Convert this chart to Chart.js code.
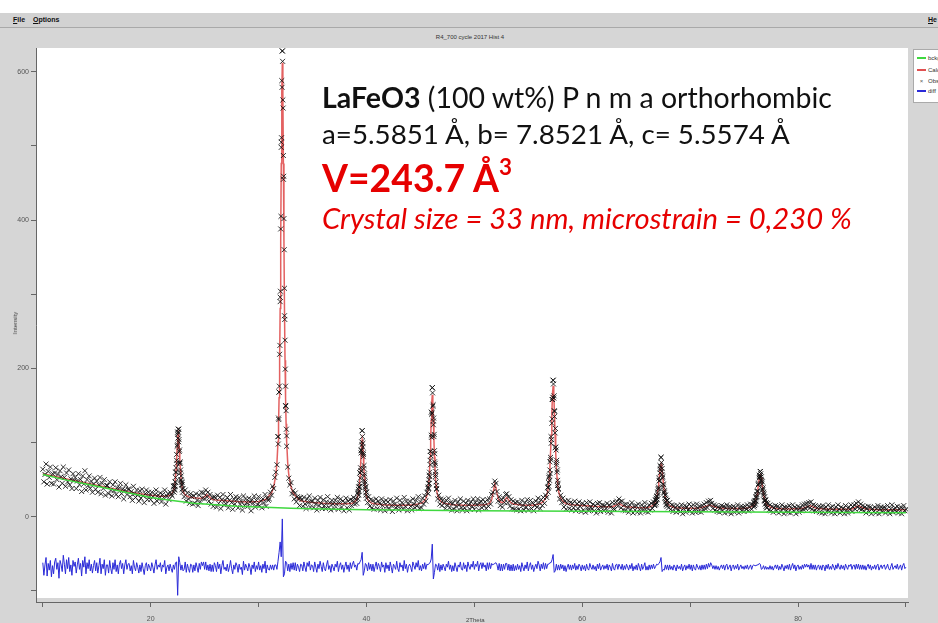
<!DOCTYPE html>
<html>
<head>
<meta charset="utf-8">
<title>LaFeO3 Rietveld fit</title>
<script src="https://cdn.jsdelivr.net/npm/chart.js@4.4.1/dist/chart.umd.min.js"></script>
<style>
html, body { margin: 0; padding: 0; }
body { width: 938px; height: 623px; position: relative; overflow: hidden; background: #d6d6d6; font-family: "Liberation Sans", Arial, sans-serif; }
#topStrip { position: absolute; left: 0; top: 0; width: 938px; height: 13px; background: #fff; }
#menu { position: absolute; left: 0; top: 13px; width: 938px; height: 14px; background: #d2d2d2; border-bottom: 1px solid #a9a9a9; font-size: 7px; font-weight: bold; color: #111; }
#menu span { position: absolute; top: 3px; }
#plotTitle { position: absolute; left: 470px; top: 34px; transform: translateX(-50%); font-size: 6px; color: #333; white-space: nowrap; }
#chart { position: absolute; left: 0; top: 0; }
.note { position: absolute; left: 322px; white-space: nowrap; font-family: Lato, "Open Sans", sans-serif; line-height: 1; }
#ylab { position: absolute; left: 15px; top: 323px; transform: translate(-50%, -50%) rotate(-90deg); font-size: 6px; color: #444; }
#xlab { position: absolute; left: 466px; top: 617px; font-size: 6px; color: #444; }
#legend { position: absolute; left: 913px; top: 49px; width: 30px; height: 52px; background: #fff; border: 1px solid #aaa; overflow: hidden; font-size: 6px; color: #333; }
#legend .row { position: absolute; left: 3px; height: 8px; line-height: 8px; white-space: nowrap; }
#legend .sw { display: inline-block; width: 9px; height: 2px; vertical-align: middle; margin-right: 2px; }
</style>
</head>
<body>
<div id="topStrip"></div>
<div id="menu"><span style="left:13px"><u>F</u>ile</span><span style="left:33px"><u>O</u>ptions</span><span style="left:928px"><u>H</u>e</span></div>
<div id="plotTitle">R4_700 cycle 2017 Hist 4</div>
<canvas id="chart" width="938" height="623"></canvas>
<div id="ylab">Intensity</div>
<div id="xlab">2Theta</div>
<div id="legend">
  <div class="row" style="top:4px"><span class="sw" style="background:#3fd83f"></span>bckgr</div>
  <div class="row" style="top:16px"><span class="sw" style="background:#e05050"></span>Calc</div>
  <div class="row" style="top:27px"><span style="display:inline-block;width:9px;margin-right:2px;text-align:center;color:#555">×</span>Obs</div>
  <div class="row" style="top:37px"><span class="sw" style="background:#2a2ad8"></span>diff</div>
</div>

<div class="note" data-width="510" data-base="108" style="font-size:28px;color:#111"><b>LaFeO3</b> (100 wt%) P n m a orthorhombic</div>
<div class="note" data-width="468" data-base="145" style="font-size:28px;color:#111">a=5.5851 Å, b= 7.8521 Å, c= 5.5574 Å</div>
<div class="note" data-width="190" data-base="192" style="font-size:38px;color:#e60000;font-weight:bold">V=243.7 Å<span style="font-size:0.6em;position:relative;top:-0.75em">3</span></div>
<div class="note" data-width="530" data-base="229" style="font-size:25px;color:#e60000;font-style:italic">Crystal size = 33 nm, microstrain = 0,230 %</div>

<script>
// ---- axis ticks ----
const xTickValues = [10, 20, 30, 40, 50, 60, 70, 80, 90];
const xTickLabels = [20, 40, 60, 80];
const yTickValues = [-100, 0, 100, 200, 300, 400, 500, 600];
const yTickLabels = [0, 200, 400, 600];

// ---- background (green) ----
const bgTheta = [10, 12, 14, 16, 18, 20, 22, 24, 26, 28, 30, 33, 36, 40, 45, 50, 55, 60, 70, 80, 90];
const bgCounts = [57, 50, 44, 38, 32, 26, 22, 18, 16, 14, 13, 11.5, 10.5, 9.5, 8.8, 8.2, 7.6, 7.2, 6.6, 6.0, 5.5];

// ---- calculated profile (red) ----
const calcTheta = [
  10, 11, 12, 13, 14, 15, 16, 17, 18, 19, 20, 21,
  21.55, 21.75, 21.95, 22.05, 22.15, 22.2, 22.25, 22.3, 22.35, 22.4, 22.45, 22.5, 22.55, 22.6, 22.65, 22.7, 22.75, 22.8, 22.85, 22.9, 22.95, 23.05, 23.15, 23.35, 23.55,
  24, 24.7, 25, 25.2, 25.4, 25.7, 26, 27, 28, 29, 30, 30.7,
  31.2, 31.4, 31.6, 31.7, 31.8, 31.85, 31.9, 31.95, 32, 32.05, 32.1, 32.15, 32.2, 32.25, 32.3, 32.35, 32.4, 32.45, 32.5, 32.55, 32.6, 32.7, 32.8, 33, 33.2, 33.7,
  34, 35, 36, 37, 38, 38.6, 38.8,
  39, 39.1, 39.2, 39.25, 39.3, 39.35, 39.4, 39.45, 39.5, 39.55, 39.6, 39.65, 39.7, 39.75, 39.8, 39.85, 39.9, 39.95, 40, 40.1, 40.2, 40.4, 40.6,
  41.5, 42.5, 43.5, 44.5,
  45.1, 45.3, 45.5, 45.6, 45.7, 45.75, 45.8, 45.85, 45.9, 45.95, 46, 46.05, 46.1, 46.15, 46.2, 46.25, 46.3, 46.35, 46.4, 46.45, 46.5, 46.6, 46.7, 46.9, 47.1,
  48, 49, 50, 51, 51.4, 51.6, 51.75, 51.85, 51.9, 52, 52.1, 52.25, 52.5, 52.7, 52.85, 53, 53.15, 53.3, 53.6, 54.5, 55.5,
  56.1, 56.34, 56.58, 56.7, 56.82, 56.88, 56.94, 57, 57.06, 57.12, 57.18, 57.24, 57.3, 57.36, 57.42, 57.48, 57.54, 57.6, 57.66, 57.72, 57.78, 57.9, 58.02, 58.26, 58.5,
  59, 60, 61, 62, 62.8, 63.2, 63.4, 63.6, 64, 65,
  65.9, 66.18, 66.46, 66.6, 66.74, 66.81, 66.88, 66.95, 67.02, 67.09, 67.16, 67.23, 67.3, 67.37, 67.44, 67.51, 67.58, 67.65, 67.72, 67.79, 67.86, 68, 68.14, 68.42, 68.7,
  69.5, 70.5, 71, 71.5, 71.8, 72.1, 72.6, 73.5, 74.5,
  75, 75.3, 75.6, 75.75, 75.9, 75.975, 76.05, 76.125, 76.2, 76.275, 76.35, 76.425, 76.5, 76.575, 76.65, 76.725, 76.8, 76.875, 76.95, 77.025, 77.1, 77.25, 77.4, 77.7, 78,
  79, 80.4, 80.8, 81.1, 81.4, 81.8, 83, 84, 85, 85.3, 85.6, 85.9, 86.3, 87.5, 88.5, 90
];
const calcCounts = [
  58, 55, 51.5, 48.5, 45.5, 42.5, 39.5, 36.5, 33.5, 31, 29, 27.5,
  27.8, 28.5, 30.8, 33.2, 37, 40.5, 45.7, 53.2, 63.5, 76.9, 92.4, 106.5, 112.5, 106.5, 92.4, 76.9, 63.5, 53.2, 45.7, 40.5, 37, 32.7, 30.3, 27.9, 26.7,
  25.5, 24.5, 27, 30, 27, 23.5, 22.5, 21.5, 20.5, 20, 20.5, 23.5,
  31.9, 40.2, 56.3, 72.3, 101.5, 125.3, 160.4, 211, 280.6, 371.6, 476.3, 571.5, 612, 571.5, 476.3, 371.6, 280.6, 211, 160.4, 125.3, 101.5, 72.3, 56.3, 40.2, 31.9, 23.5,
  21.3, 19, 18, 17.5, 17.5, 17.7, 18.9,
  21.3, 23.7, 28, 31.5, 36.7, 44.2, 54.5, 67.9, 83.4, 97.5, 103.5, 97.5, 83.4, 67.9, 54.5, 44.2, 36.7, 31.5, 28, 23.7, 21.3, 18.9, 17.7,
  16, 15.5, 15.5, 16,
  18.3, 20.4, 24.4, 28.5, 35.8, 41.8, 50.7, 63.4, 81, 103.9, 130.3, 154.3, 164.5, 154.3, 130.3, 103.9, 81, 63.4, 50.7, 41.8, 35.8, 28.5, 24.4, 20.4, 18.3,
  16, 15.5, 15.5, 16, 18, 23, 33, 41, 43, 39, 31, 23, 19, 20, 23, 26, 23, 20, 17, 15.5, 15.5,
  17.6, 19.9, 24.3, 28.7, 36.6, 43.2, 52.8, 66.6, 85.7, 110.6, 139.3, 165.4, 176.5, 165.4, 139.3, 110.6, 85.7, 66.6, 52.8, 43.2, 36.6, 28.7, 24.3, 19.9, 17.6,
  16, 15, 14, 13.5, 13.5, 16, 18, 16, 13.5, 12.5,
  12, 12.8, 14.5, 16.1, 19, 21.4, 25, 30.1, 37.1, 46.3, 56.8, 66.4, 70.5, 66.4, 56.8, 46.3, 37.1, 30.1, 25, 21.4, 19, 16.1, 14.5, 12.8, 12,
  11.5, 11.5, 12, 14, 16, 14, 12, 11, 11,
  11.2, 11.8, 13, 14.3, 16.5, 18.4, 21.1, 25, 30.4, 37.4, 45.5, 52.9, 56, 52.9, 45.5, 37.4, 30.4, 25, 21.1, 18.4, 16.5, 14.3, 13, 11.8, 11.2,
  10.5, 11, 13, 15, 13, 11, 10, 10, 10.5, 12.5, 15, 12.5, 10.5, 9.5, 9.5, 9.5
];

// ---- observed counts, 2theta 10.0 .. 90.0 every 0.1 deg ----
const obsStart = 10, obsStep = 0.1;
const obsCounts = [
  64, 47, 57, 71, 44, 61, 53, 67, 45, 58,
  44, 59, 66, 50, 57, 40, 62, 54, 45, 67,
  53, 41, 59, 47, 63, 43, 51, 38, 58, 49,
  53, 38, 48, 58, 43, 50, 34, 55, 44, 62,
  36, 50, 42, 55, 38, 48, 33, 44, 52, 37,
  48, 33, 43, 53, 31, 45, 38, 50, 29, 42,
  42, 31, 47, 36, 28, 43, 35, 47, 30, 39,
  27, 39, 45, 31, 37, 24, 36, 43, 30, 37,
  37, 27, 34, 22, 41, 31, 26, 36, 29, 21,
  35, 25, 37, 28, 19, 31, 36, 23, 33, 28,
  23, 33, 27, 18, 30, 36, 21, 29, 25, 32,
  20, 30, 26, 36, 17, 28, 31, 23, 33, 30,
  28, 41, 37, 60, 84, 114, 118, 72, 49, 46,
  38, 27, 36, 21, 32, 24, 18, 31, 27, 17,
  28, 18, 31, 22, 15, 29, 20, 33, 25, 32,
  24, 36, 27, 33, 21, 30, 17, 26, 14, 27,
  25, 13, 29, 18, 26, 11, 23, 30, 16, 22,
  17, 26, 12, 22, 30, 19, 10, 24, 17, 27,
  23, 12, 26, 17, 21, 9, 28, 15, 24, 19,
  14, 25, 20, 8, 23, 18, 28, 13, 22, 16,
  27, 15, 21, 12, 24, 19, 30, 14, 25, 22,
  24, 33, 29, 41, 38, 53, 60, 70, 108, 168,
  296, 505, 628, 455, 271, 150, 109, 67, 52, 43,
  46, 31, 35, 24, 32, 20, 27, 25, 15, 26,
  23, 14, 26, 17, 11, 24, 19, 28, 13, 21,
  21, 12, 25, 17, 9, 22, 15, 26, 18, 11,
  23, 15, 11, 20, 27, 13, 19, 9, 22, 17,
  11, 22, 17, 26, 10, 19, 24, 13, 21, 8,
  19, 25, 12, 21, 9, 23, 15, 22, 26, 17,
  24, 18, 31, 40, 59, 90, 116, 86, 49, 40,
  33, 19, 27, 14, 23, 12, 22, 10, 18, 24,
  11, 21, 18, 9, 24, 15, 20, 8, 22, 14,
  20, 10, 23, 15, 7, 21, 17, 12, 25, 14,
  9, 22, 15, 19, 10, 26, 14, 21, 8, 17,
  21, 14, 9, 24, 17, 12, 22, 15, 27, 11,
  20, 12, 25, 17, 28, 21, 33, 38, 56, 88,
  141, 174, 124, 74, 54, 38, 24, 29, 17, 24,
  15, 23, 18, 11, 22, 16, 25, 12, 19, 9,
  18, 10, 22, 14, 8, 20, 16, 24, 12, 9,
  21, 12, 18, 8, 22, 16, 10, 20, 14, 24,
  10, 19, 16, 24, 9, 18, 21, 12, 23, 15,
  20, 11, 23, 14, 24, 17, 30, 33, 42, 48,
  45, 34, 21, 27, 15, 23, 13, 25, 19, 30,
  31, 19, 27, 14, 23, 11, 21, 10, 19, 9,
  20, 10, 17, 8, 22, 15, 9, 19, 13, 23,
  9, 17, 22, 11, 19, 8, 15, 21, 13, 25,
  19, 11, 23, 15, 26, 18, 29, 26, 39, 53,
  74, 108, 158, 184, 143, 93, 70, 42, 37, 24,
  29, 19, 25, 13, 21, 10, 18, 22, 11, 19,
  9, 18, 12, 21, 8, 17, 11, 20, 14, 7,
  18, 9, 16, 6, 19, 12, 8, 20, 13, 10,
  17, 8, 15, 5, 18, 11, 19, 7, 13, 16,
  8, 15, 11, 18, 6, 16, 13, 5, 19, 11,
  10, 19, 21, 14, 24, 20, 12, 21, 9, 16,
  8, 17, 12, 6, 16, 10, 19, 5, 14, 9,
  15, 6, 17, 10, 5, 16, 9, 13, 19, 7,
  12, 6, 16, 9, 18, 11, 20, 15, 22, 27,
  37, 52, 69, 80, 57, 44, 32, 29, 17, 22,
  12, 19, 10, 16, 7, 15, 12, 6, 15, 9,
  13, 7, 16, 4, 11, 15, 6, 13, 9, 17,
  8, 14, 5, 16, 10, 6, 17, 12, 7, 14,
  6, 15, 10, 17, 11, 19, 12, 21, 17, 22,
  18, 11, 16, 9, 15, 7, 13, 6, 12, 15,
  8, 14, 5, 12, 16, 6, 11, 14, 4, 12,
  14, 6, 12, 8, 16, 5, 11, 14, 8, 13,
  7, 14, 10, 16, 8, 13, 17, 10, 16, 19,
  21, 27, 34, 43, 56, 61, 48, 37, 33, 21,
  23, 12, 18, 9, 16, 8, 14, 6, 12, 15,
  8, 14, 5, 12, 7, 16, 11, 4, 13, 8,
  13, 6, 15, 5, 11, 16, 8, 13, 4, 11,
  14, 6, 12, 8, 16, 10, 17, 11, 18, 13,
  19, 12, 20, 10, 16, 8, 15, 7, 12, 14,
  6, 13, 5, 15, 11, 4, 13, 8, 16, 7,
  12, 5, 14, 9, 4, 13, 7, 16, 10, 5,
  13, 7, 11, 4, 15, 9, 5, 13, 10, 16,
  7, 13, 16, 10, 18, 13, 20, 11, 17, 10,
  15, 8, 13, 5, 11, 14, 7, 13, 4, 11,
  7, 13, 5, 11, 15, 4, 10, 13, 7, 12,
  13, 5, 10, 15, 7, 4, 11, 16, 6, 10,
  12, 7, 14, 5, 10, 13, 4, 11, 15, 8,
  10
];

// extra observed points through the main reflections (finer step)
const peakStarts = [22.15, 31.8, 39.2, 45.7, 56.82, 66.74, 75.9];
const peakSteps = [0.025, 0.025, 0.025, 0.025, 0.03, 0.035, 0.0375];
const obsPeak22 = [41, 33, 42, 36, 47, 41, 53, 46, 66, 60, 76, 72, 95, 97, 111, 106, 118, 114, 101, 104, 88, 90, 72, 74, 59, 63, 50, 55, 43, 47, 37, 43, 33];
const obsPeak32 = [108, 98, 133, 131, 168, 176, 219, 231, 290, 304, 388, 405, 498, 511, 588, 579, 628, 614, 562, 551, 487, 459, 402, 360, 308, 266, 238, 199, 176, 149, 143, 118, 95];
const obsPeak39 = [33, 24, 37, 29, 40, 34, 45, 41, 59, 52, 66, 62, 86, 89, 101, 97, 116, 108, 94, 99, 81, 84, 65, 69, 55, 58, 44, 47, 37, 40, 29, 33, 25];
const obsPeak46 = [40, 31, 45, 38, 50, 45, 60, 54, 76, 70, 88, 82, 110, 107, 138, 140, 174, 167, 149, 151, 129, 133, 108, 111, 89, 85, 69, 72, 57, 61, 47, 42, 37];
const obsPeak57 = [40, 33, 46, 41, 55, 49, 63, 58, 80, 77, 99, 104, 126, 132, 158, 161, 184, 179, 160, 163, 135, 142, 113, 119, 94, 90, 73, 76, 60, 63, 49, 45, 38];
const obsPeak67 = [16, 23, 17, 25, 19, 28, 23, 33, 30, 40, 38, 48, 49, 59, 64, 67, 80, 73, 61, 65, 52, 54, 40, 43, 33, 35, 25, 29, 20, 24, 16, 22, 14];
const obsPeak76 = [13, 20, 15, 22, 17, 26, 21, 30, 27, 35, 34, 43, 45, 52, 54, 53, 61, 58, 50, 54, 44, 47, 36, 39, 29, 31, 22, 27, 17, 22, 14, 19, 12];
const obsPeaks = [obsPeak22, obsPeak32, obsPeak39, obsPeak46, obsPeak57, obsPeak67, obsPeak76];

// ---- difference obs - calc, same 0.1 deg grid, drawn shifted down ----
const diffOffset = -68;
const diffCounts = [
  6, -11, 3, 13, -12, 5, -4, 9, -13, 2,
  -9, 7, 12, -3, 6, -15, 9, 3, -6, 16,
  4, -9, 10, -2, 13, -6, 3, -11, 9, 1,
  7, -8, 3, 12, -3, 5, -12, 9, 0, 14,
  -9, 6, -2, 10, -5, 4, -8, 2, 9, -5,
  6, -8, 2, 12, -9, 4, -2, 10, -11, 3,
  3, -8, 9, -2, -9, 6, -3, 10, -6, 3,
  -9, 4, 9, -2, 5, -9, 3, 10, -3, 4,
  5, -5, 2, -9, 9, 0, -5, 6, 0, -8,
  3, -6, 6, -2, -10, 2, 6, -5, 4, 0,
  -5, 6, 0, -8, 3, 10, -3, 3, 0, 6,
  -6, 3, 0, 9, -9, 0, 3, -5, 4, -2,
  -7, 3, -3, 6, 7, -38, 14, 6, -4, 3,
  -5, -3, 7, -7, 4, -2, -7, 4, 3, -7,
  3, -5, 6, 0, -7, 5, -3, 7, 2, 7,
  -3, 7, -4, 3, -5, 4, -6, 3, -6, 6,
  2, -6, 7, -2, 4, -9, 2, 9, -3, 0,
  -5, 4, -6, 0, 9, -2, -9, 3, -3, 6,
  2, -7, 4, -3, 0, -10, 8, -4, 4, 0,
  -5, 5, 0, -10, 3, -2, 7, -6, 2, -3,
  7, -4, 2, -7, 4, -2, 8, -8, 3, -3,
  -4, 3, -3, 3, -4, 3, 3, -3, 8, 20,
  34, 14, 65, -13, -9, 8, 6, -5, 4, -6,
  5, -3, 6, -4, 6, -5, 4, 0, -6, 4,
  3, -5, 7, 0, -6, 6, 1, 8, -4, 3,
  2, -6, 7, 0, -7, 4, -2, 8, 1, -6,
  6, -2, -5, 3, 9, -3, 2, -7, 4, 0,
  -5, 4, 0, 8, -6, 2, 6, -3, 3, -7,
  1, 7, -3, 3, -6, 6, -2, 4, 8, 0,
  3, -4, 5, 4, 7, 10, 20, -11, -5, 5,
  3, -5, 6, -3, 4, -5, 4, -6, 1, 7,
  -3, 5, 1, -6, 7, 0, 3, -7, 6, -2,
  3, -5, 7, 0, -8, 4, 1, -3, 8, -2,
  -6, 6, 0, 3, -5, 9, -2, 4, -7, 1,
  4, 0, -6, 7, 2, -3, 6, 0, 9, -4,
  2, -5, 4, -2, 6, -3, 4, 3, 5, 6,
  11, 31, -16, -7, 4, 3, -4, 5, -6, 3,
  -4, 4, 0, -5, 4, 0, 8, -3, 3, -6,
  2, -5, 6, 0, -6, 3, 0, 7, -3, -4,
  6, -2, 3, -6, 7, 1, -3, 4, 0, 8,
  -3, 4, 1, 8, -5, 3, 6, -2, 6, 0,
  3, -5, 6, -3, 6, -2, 5, 3, 4, 5,
  6, 3, -4, 5, -5, 4, -5, 4, -3, 5,
  5, -4, 4, -5, 3, -5, 4, -5, 2, -4,
  4, -3, 2, -6, 6, 0, -5, 3, -2, 7,
  -5, 2, 6, -3, 3, -6, 0, 4, -2, 8,
  3, -5, 4, -2, 6, -3, 5, -2, 4, 4,
  6, 6, 10, 17, -7, -5, 4, -4, 3, -4,
  4, -2, 3, -5, 2, -6, 0, 4, -3, 3,
  -4, 3, -2, 5, -4, 2, -3, 4, 1, -5,
  3, -3, 2, -5, 4, -2, -4, 5, 0, -3,
  3, -3, 1, -5, 4, -2, 5, -4, 0, 3,
  -3, 2, -2, 4, -4, 3, 0, -5, 5, -2,
  -4, 3, 4, -3, 4, 1, -3, 4, -4, 2,
  -3, 4, 0, -4, 3, -2, 5, -5, 1, -3,
  3, -4, 5, 0, -5, 4, -3, 1, 6, -4,
  1, -4, 3, -3, 3, -2, 4, -2, 1, 4,
  3, 5, 7, 13, -6, -3, -4, 3, -3, 3,
  -4, 3, -3, 1, -4, 3, 0, -5, 3, -2,
  1, -3, 4, -5, 0, 3, -4, 2, -2, 4,
  -3, 3, -5, 3, -2, -4, 4, 0, -3, 2,
  -4, 3, -3, 3, -3, 4, -2, 5, 0, 6,
  3, -2, 2, -3, 2, -3, 1, -4, 0, 3,
  -2, 3, -4, 2, 4, -3, 0, 3, -5, 1,
  3, -3, 2, -2, 4, -4, 0, 3, -2, 1,
  -3, 2, -2, 3, -3, 0, 3, -3, 2, 3,
  2, 2, 3, 3, 5, 4, -3, -2, 2, -3,
  1, -3, 0, -3, 2, -3, 1, -4, 0, 3,
  -2, 3, -4, 1, -3, 4, 0, -5, 2, -2,
  3, -3, 4, -4, 1, 5, -2, 3, -5, 1,
  3, -3, 1, -3, 3, -2, 4, 0, 4, 0,
  3, -3, 5, -3, 3, -3, 3, -4, 1, 3,
  -3, 2, -4, 3, 1, -5, 3, -2, 4, -3,
  1, -3, 4, 0, -4, 3, -2, 5, 0, -3,
  3, -2, 2, -4, 4, 0, -3, 3, 1, 4,
  -3, 2, 3, -3, 4, -2, 4, -3, 3, -3,
  3, -3, 2, -4, 1, 4, -2, 3, -4, 1,
  -2, 3, -3, 2, 4, -4, 0, 3, -2, 2,
  3, -3, 0, 4, -2, -4, 1, 5, -3, 0,
  2, -2, 4, -3, 0, 3, -4, 2, 5, -2,
  0
];

// ---- build point lists for Chart.js ----
const gridX = i => +(obsStart + i * obsStep).toFixed(3);

const bgData = bgTheta.map((t, i) => ({ x: t, y: bgCounts[i] }));
const calcData = [];
for (let i = 0; i < Math.min(calcTheta.length, calcCounts.length); i++) {
  calcData.push({ x: calcTheta[i], y: calcCounts[i] });
}
const obsData = obsCounts.map((v, i) => ({ x: gridX(i), y: v }));
obsPeaks.forEach((vals, p) => {
  vals.forEach((v, i) => obsData.push({ x: +(peakStarts[p] + i * peakSteps[p]).toFixed(4), y: v }));
});
const diffData = diffCounts.map((v, i) => ({ x: gridX(i), y: v + diffOffset }));

// white plotting field, slightly inset from the axes like the original program
const plotBackground = {
  id: 'plotBackground',
  beforeDraw(chart) {
    const { ctx, chartArea } = chart;
    ctx.save();
    ctx.fillStyle = '#ffffff';
    ctx.fillRect(chartArea.left + 1, chartArea.top, chartArea.right - chartArea.left - 1, chartArea.bottom - chartArea.top - 4);
    ctx.restore();
  }
};

const tickFont = { family: 'Liberation Sans', size: 7 };

new Chart(document.getElementById('chart').getContext('2d'), {
  type: 'scatter',
  data: {
    datasets: [
      {
        label: 'bckgr',
        data: bgData,
        showLine: true,
        borderColor: '#3fd83f',
        borderWidth: 1.5,
        pointRadius: 0,
        order: 0
      },
      {
        label: 'Obs',
        data: obsData,
        showLine: false,
        pointStyle: 'crossRot',
        pointRadius: 3.5,
        pointBorderWidth: 1,
        pointBorderColor: 'rgba(15, 15, 15, 0.85)',
        pointBackgroundColor: 'rgba(0,0,0,0)',
        order: 1
      },
      {
        label: 'Calc',
        data: calcData,
        showLine: true,
        borderColor: 'rgba(224, 80, 80, 0.9)',
        borderWidth: 1.5,
        pointRadius: 0,
        order: 2
      },
      {
        label: 'diff',
        data: diffData,
        showLine: true,
        borderColor: '#2a2ad8',
        borderWidth: 1,
        pointRadius: 0,
        order: 3
      }
    ]
  },
  options: {
    responsive: false,
    animation: false,
    devicePixelRatio: 1,
    layout: { padding: { left: 0, top: 48, right: 30, bottom: 0 } },
    plugins: { legend: { display: false }, tooltip: { enabled: false } },
    elements: { line: { tension: 0 } },
    scales: {
      x: {
        type: 'linear',
        min: 9.37,
        max: 90.19,
        afterFit: scale => { scale.height = 21; },
        afterBuildTicks: scale => { scale.ticks = xTickValues.map(v => ({ value: v })); },
        grid: { drawOnChartArea: false, drawTicks: true, tickLength: 5, color: '#666' },
        border: { display: true, color: '#666', width: 1 },
        ticks: {
          font: tickFont,
          color: '#555',
          padding: 8,
          maxRotation: 0,
          autoSkip: false,
          callback: v => xTickLabels.includes(v) ? String(v) : ''
        }
      },
      y: {
        type: 'linear',
        min: -115,
        max: 632,
        afterFit: scale => { scale.width = 36; },
        afterBuildTicks: scale => { scale.ticks = yTickValues.map(v => ({ value: v })); },
        grid: { drawOnChartArea: false, drawTicks: true, tickLength: 5, color: '#666' },
        border: { display: true, color: '#666', width: 1 },
        ticks: {
          font: tickFont,
          color: '#555',
          padding: 2,
          autoSkip: false,
          callback: v => yTickLabels.includes(v) ? String(v) : ''
        }
      }
    }
  },
  plugins: [plotBackground]
});

// fit the annotation lines to the widths they take in the original
document.querySelectorAll('.note').forEach(el => {
  const target = +el.dataset.width;
  const fs = parseFloat(el.style.fontSize);
  const w = el.getBoundingClientRect().width;
  const nfs = fs * target / w;
  el.style.fontSize = nfs.toFixed(2) + 'px';
  el.style.top = (+el.dataset.base - 0.887 * nfs).toFixed(1) + 'px';
});
</script>
</body>
</html>
